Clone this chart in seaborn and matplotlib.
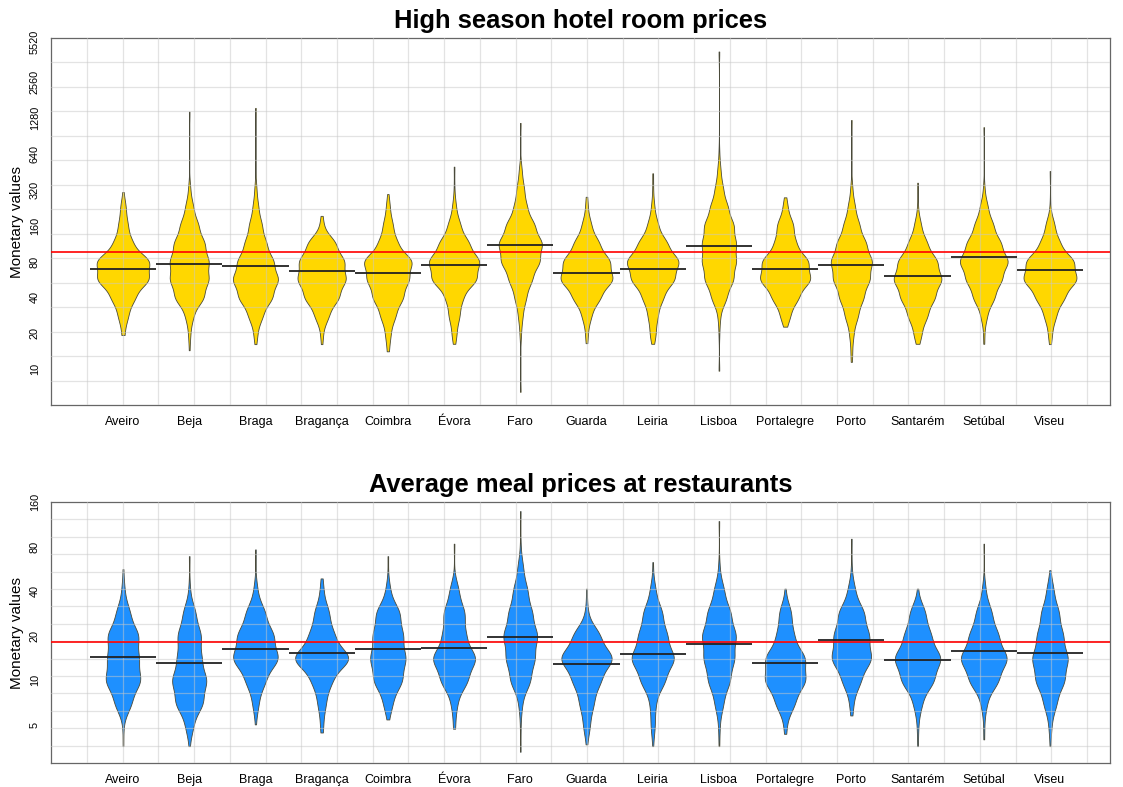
import numpy as np
import pandas as pd
import matplotlib
matplotlib.use("Agg")
import matplotlib.pyplot as plt
import matplotlib.ticker as ticker
import seaborn as sns

cities = ["Aveiro", "Beja", "Braga", "Bragança", "Coimbra", "Évora", "Faro", "Guarda",
          "Leiria", "Lisboa", "Portalegre", "Porto", "Santarém", "Setúbal", "Viseu"]

# hotel room prices: number of listings at each price level (half-doubling steps)
hotel_levels = [10, 14.1, 20, 28.3, 40, 56.6, 80, 113, 160, 226, 320, 453, 640, 905, 1280]
hotel_counts = [
    [0, 0, 3, 13, 30, 66, 68, 24, 12, 7, 0, 0, 0, 0, 0],    # Aveiro
    [0, 0, 3, 11, 40, 53, 53, 42, 25, 11, 3, 0, 0, 0, 0],   # Beja
    [0, 0, 5, 20, 47, 64, 50, 30, 18, 8, 3, 0, 0, 0, 0],    # Braga
    [0, 0, 3, 18, 44, 62, 58, 36, 4, 0, 0, 0, 0, 0, 0],     # Bragança
    [0, 2, 7, 20, 40, 55, 65, 25, 13, 5, 0, 0, 0, 0, 0],    # Coimbra
    [0, 0, 6, 14, 22, 58, 66, 38, 16, 5, 1, 0, 0, 0, 0],    # Évora
    [0, 0, 2, 6, 15, 30, 50, 57, 37, 17, 10, 4, 0, 0, 0],   # Faro
    [0, 0, 3, 12, 35, 68, 60, 32, 12, 3, 0, 0, 0, 0, 0],    # Guarda
    [0, 0, 7, 12, 25, 53, 65, 35, 13, 4, 1, 0, 0, 0, 0],    # Leiria
    [0, 0, 1, 3, 18, 34, 40, 40, 35, 21, 10, 4, 1, 0, 0],   # Lisboa
    [0, 0, 0, 13, 35, 68, 62, 28, 22, 6, 0, 0, 0, 0, 0],    # Portalegre
    [0, 2, 6, 18, 33, 50, 57, 40, 22, 10, 3, 0, 0, 0, 0],   # Porto
    [0, 0, 9, 23, 40, 57, 46, 22, 8, 1, 0, 0, 0, 0, 0],     # Santarém
    [0, 0, 1, 8, 27, 45, 62, 43, 24, 10, 2, 0, 0, 0, 0],    # Setúbal
    [0, 0, 5, 16, 38, 72, 64, 26, 12, 1, 0, 0, 0, 0, 0],    # Viseu
]
hotel_low = [19.3, 14.4, 16.2, 16.2, 15.7, 16.3, 6.45, 16.5, 16.3, 9.7, 22.7, 11.5, 16.3, 16.3, 16.2]
hotel_high = [306, 1445, 1553, 193, 294, 499, 1162, 279, 439, 4614, 276, 1230, 366, 1070, 459]
hotel_means = [69.5, 75.7, 72.8, 66.1, 63.6, 74.6, 110.5, 63.6, 69.5, 108.4, 68.7, 75.1, 60.7, 87.6, 68.2]
hotel_overall = 96
hotel_ticks = [10, 20, 40, 80, 160, 320, 640, 1280, 2560, 5520]

# average meal prices
meal_levels = [3.54, 5, 7.07, 10, 14.1, 20, 28.3, 40, 56.6, 80, 113]
meal_counts = [
    [0, 1, 22, 46, 40, 41, 18, 4, 0, 0, 0],    # Aveiro
    [0, 10, 35, 44, 30, 30, 16, 2, 0, 0, 0],   # Beja
    [0, 0, 8, 25, 60, 47, 25, 5, 0, 0, 0],     # Braga
    [0, 3, 10, 24, 70, 30, 18, 4, 0, 0, 0],    # Bragança
    [0, 0, 12, 38, 47, 40, 32, 6, 0, 0, 0],    # Coimbra
    [0, 2, 8, 35, 58, 30, 28, 12, 0, 0, 0],    # Évora
    [0, 1, 5, 28, 40, 48, 33, 20, 8, 1, 0],    # Faro
    [0, 8, 17, 33, 64, 32, 3, 0, 0, 0, 0],     # Guarda
    [0, 6, 8, 34, 62, 40, 27, 8, 0, 0, 0],     # Leiria
    [0, 2, 12, 30, 42, 47, 32, 14, 2, 0, 0],   # Lisboa
    [0, 3, 25, 53, 52, 22, 16, 0, 0, 0, 0],    # Portalegre
    [0, 0, 5, 25, 55, 48, 35, 10, 1, 0, 0],    # Porto
    [0, 2, 12, 45, 66, 37, 22, 0, 0, 0, 0],    # Santarém
    [0, 1, 8, 40, 66, 40, 22, 5, 0, 0, 0],     # Setúbal
    [0, 4, 18, 40, 50, 36, 25, 10, 0, 0, 0],   # Viseu
]
meal_low = [3.6, 3.6, 5.05, 4.45, 5.45, 4.72, 3.3, 3.7, 3.6, 3.6, 4.36, 5.8, 3.6, 4.0, 3.6]
meal_high = [56.4, 69, 76.6, 48.8, 69, 83.7, 139, 41.6, 62.9, 119, 41.6, 90.4, 41.6, 83.7, 55.5]
meal_means = [14.5, 13.2, 16.4, 15.3, 16.3, 16.5, 19.6, 12.9, 15.05, 17.7, 13.2, 18.6, 13.7, 15.9, 15.4]
meal_overall = 18.25
meal_ticks = [5, 10, 20, 40, 80, 160]

BW = 0.072  # kernel sd in log10 units, same for every bean


def fixed_bw(kde):
    return BW / np.std(kde.dataset, ddof=1)


def to_frame(levels, counts, low, high):
    parts = []
    for city, c, lo, hi in zip(cities, counts, low, high):
        vals = np.concatenate([np.repeat(levels, c), [lo, hi]])
        parts.append(pd.DataFrame({"city": city, "price": vals}))
    return pd.concat(parts, ignore_index=True)


def bean_panel(ax, df, means, overall, color, ylim, ticks, title):
    sns.violinplot(data=df, x="city", y="price", order=cities, ax=ax, log_scale=True,
                   color=color, saturation=1, inner=None, cut=0, width=0.8,
                   density_norm="area", bw_method=fixed_bw,
                   linecolor="#4a4a3a", linewidth=0.6)
    ax.set_xlim(-1.0875, 14.906)
    ax.set_ylim(*ylim)

    # R-style grid, drawn over the beans
    for gx in np.linspace(-0.544, 14.56, 29):
        ax.axvline(gx, color="#c8c8c8", lw=0.9, alpha=0.5, zorder=3)
    lo, hi = np.log10(ylim)
    for gy in np.logspace(lo, hi, 16)[1:-1]:
        ax.axhline(gy, color="#c8c8c8", lw=0.9, alpha=0.5, zorder=3)

    xs = np.arange(len(cities))
    ax.hlines(means, xs - 0.5, xs + 0.5, color="#222222", lw=1.3, zorder=4)
    ax.axhline(overall, color="red", lw=1.2, zorder=5)

    ax.yaxis.set_major_locator(ticker.FixedLocator(ticks))
    ax.yaxis.set_major_formatter(ticker.FixedFormatter([str(t) for t in ticks]))
    ax.yaxis.set_minor_locator(ticker.NullLocator())
    ax.tick_params(axis="y", labelrotation=90, labelsize=7.8, length=5, color="#555555",
                   labelcolor="black", pad=3)
    ax.tick_params(axis="x", labelsize=9.0, length=5, color="#555555",
                   labelcolor="black", pad=3)
    for lab in ax.get_yticklabels():
        lab.set_va("center")
    ax.set_xlabel("")
    ax.set_ylabel("Monetary values", fontsize=11, labelpad=4, color="black")
    ax.set_title(title, fontsize=18.4, fontweight="bold", pad=7, color="black")
    for sp in ax.spines.values():
        sp.set_color("#666666")
        sp.set_linewidth(0.9)


sns.set_style("white")
plt.rcParams["font.family"] = ["Liberation Sans", "DejaVu Sans"]

fig = plt.figure(figsize=(11.23, 7.87), dpi=100)
ax1 = fig.add_axes([0.0454, 0.4854, 0.9430, 0.4663])
ax2 = fig.add_axes([0.0454, 0.0305, 0.9430, 0.3316])

hotel_df = to_frame(hotel_levels, hotel_counts, hotel_low, hotel_high)
meal_df = to_frame(meal_levels, meal_counts, meal_low, meal_high)

bean_panel(ax1, hotel_df, hotel_means, hotel_overall, "#FFD700", (5.0, 5990), hotel_ticks,
           "High season hotel room prices")
bean_panel(ax2, meal_df, meal_means, meal_overall, "#1E90FF", (2.77, 160), meal_ticks,
           "Average meal prices at restaurants")

fig.savefig("out.png", dpi=100)
